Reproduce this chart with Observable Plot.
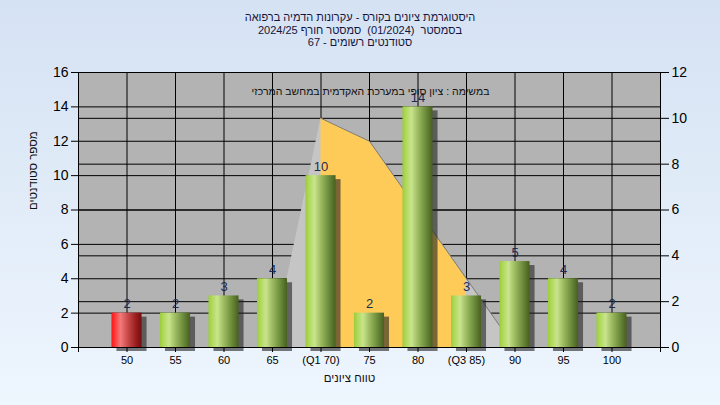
<!DOCTYPE html>
<html><head><meta charset="utf-8">
<script src="https://cdn.jsdelivr.net/npm/d3@7"></script>
<script src="https://cdn.jsdelivr.net/npm/@observablehq/plot@0.6"></script>
<style>
html,body{margin:0;padding:0;}
body{width:720px;height:405px;overflow:hidden;background:linear-gradient(#d5e2f3,#eef6fe);font-family:"Liberation Sans",Arial,sans-serif;}
#title{height:56px;box-sizing:border-box;padding-top:11px;text-align:center;font-size:11px;line-height:12.5px;color:#14143c;}
#chart svg{display:block;}
</style></head><body>
<div id="title" dir="rtl"></div>
<div id="chart"></div>
<script>
const titleLines = [
  "היסטוגרמת ציונים בקורס - עקרונות הדמיה ברפואה",
  "בסמסטר  (01/2024)  סמסטר חורף 2024/25",
  "סטודנטים רשומים - 67"
];
const subtitle = "במשימה : ציון סופי במערכת האקדמית במחשב המרכזי";
const xLabel = "טווח ציונים";
const yLabel = "מספר סטודנטים";

const grades = [50,55,60,65,70,75,80,85,90,95,100];
const counts = [2,2,3,4,10,2,14,3,5,4,2];
const gradeLabels = ["50","55","60","65","(Q1 70)","75","80","(Q3 85)","90","95","100"];
const curveGrades = [65,70,75,80,85,90];
const curveValues = [0,10,9,6,3,0];
const q1 = 70, q3 = 85;
const passGrade = 55;
const leftTicks = [0,2,4,6,8,10,12,14,16];
const rightTicks = [0,2,4,6,8,10,12];

document.getElementById("title").innerHTML = titleLines.map(t => `<div>${t.replace(/ /g,"&nbsp;")}</div>`).join("");

const leftMax = 16, rightMax = 12;
const r2l = v => v * leftMax / rightMax;
const bars = grades.map((g,i) => ({g, n: counts[i], fail: g < passGrade}));
const curve = curveGrades.map((g,i) => ({g, v: r2l(curveValues[i])}));
const inner = curve.filter(d => d.g >= q1 && d.g <= q3);
const half = 1.55;

const plot = Plot.plot({
  width: 720, height: 349,
  marginTop: 16, marginBottom: 58, marginLeft: 78, marginRight: 60,
  x: {domain: [45,105]},
  y: {domain: [0,16]},
  style: {fontFamily: "Liberation Sans, Arial, sans-serif", background: "transparent", color: "#000", overflow: "visible"},
  marks: [
    Plot.frame({fill: "#b3b3b3", stroke: null}),
    Plot.ruleY(leftTicks, {stroke: "#000"}),
    Plot.ruleY(rightTicks.map(r2l), {stroke: "#000"}),
    Plot.ruleX(grades, {stroke: "#000"}),
    Plot.areaY(curve, {x: "g", y: "v", fill: "#c5c5c5"}),
    Plot.areaY(inner, {x: "g", y: "v", fill: "#fecb58"}),
    Plot.lineY(curve.filter(d => d.g >= q1), {x: "g", y: "v", stroke: "#7a7a7a", strokeWidth: 1}),
    Plot.rectY(bars, {x1: d => d.g - half, x2: d => d.g + half, y: "n", dx: 5, dy: 4, fill: "#222", fillOpacity: 0.6, ariaLabel: "shadow"}),
    Plot.rectY(bars.filter(d => !d.fail), {x1: d => d.g - half, x2: d => d.g + half, y: "n", fill: "url(#gGreen)"}),
    Plot.rectY(bars.filter(d => d.fail), {x1: d => d.g - half, x2: d => d.g + half, y: "n", fill: "url(#gRed)"}),
    Plot.text(bars, {x: "g", y: "n", text: d => String(d.n), dy: -5, lineAnchor: "bottom", fill: "#1c2b55", fontSize: 13}),
    Plot.text([subtitle], {frameAnchor: "top", dy: 15, dx: 1, fontSize: 10.5, fill: "#111"}),
    Plot.ruleX([45,105], {stroke: "#000"}),
    Plot.ruleY([0], {stroke: "#000"}),
    Plot.axisY(leftTicks, {anchor: "left", tickSize: 7, tickPadding: 3, fontSize: 14, label: null}),
    Plot.axisY(rightTicks.map(r2l), {anchor: "right", tickSize: 8, tickPadding: 3, fontSize: 14, label: null,
      tickFormat: d => String(Math.round(d * rightMax / leftMax))}),
    Plot.axisX([45, ...grades, 105], {anchor: "bottom", tickSize: 5, tickPadding: 4, fontSize: 11, label: null,
      tickFormat: d => gradeLabels[grades.indexOf(d)] ?? ""}),
    Plot.text([xLabel], {frameAnchor: "bottom", dy: 34, dx: -20, fontSize: 11.5, fill: "#111"}),
    Plot.text([yLabel], {frameAnchor: "left", dx: -45, rotate: -90, fontSize: 11.5, fill: "#111"})
  ]
});

const defs = d3.select(plot).insert("defs", ":first-child");
function grad(id, stops) {
  const g = defs.append("linearGradient").attr("id", id).attr("x1", 0).attr("x2", 1).attr("y1", 0).attr("y2", 0);
  stops.forEach(([o, c]) => g.append("stop").attr("offset", o).attr("stop-color", c));
}
grad("gGreen", [[0,"#9ccc3c"],[0.12,"#b0d95a"],[0.3,"#c8e48e"],[0.5,"#9fbd62"],[0.78,"#6b8a3a"],[1,"#485f20"]]);
grad("gRed", [[0,"#ff1414"],[0.12,"#ff3a3a"],[0.3,"#f27a7a"],[0.55,"#c84848"],[0.8,"#9c2020"],[1,"#760c0c"]]);
defs.append("filter").attr("id", "blur").attr("x", "-50%").attr("y", "-20%").attr("width", "200%").attr("height", "140%")
  .append("feGaussianBlur").attr("stdDeviation", 2);
const sh = plot.querySelector('g[aria-label="shadow"]');
if (sh) sh.setAttribute("filter", "url(#blur)");

document.getElementById("chart").appendChild(plot);
</script>
</body></html>
